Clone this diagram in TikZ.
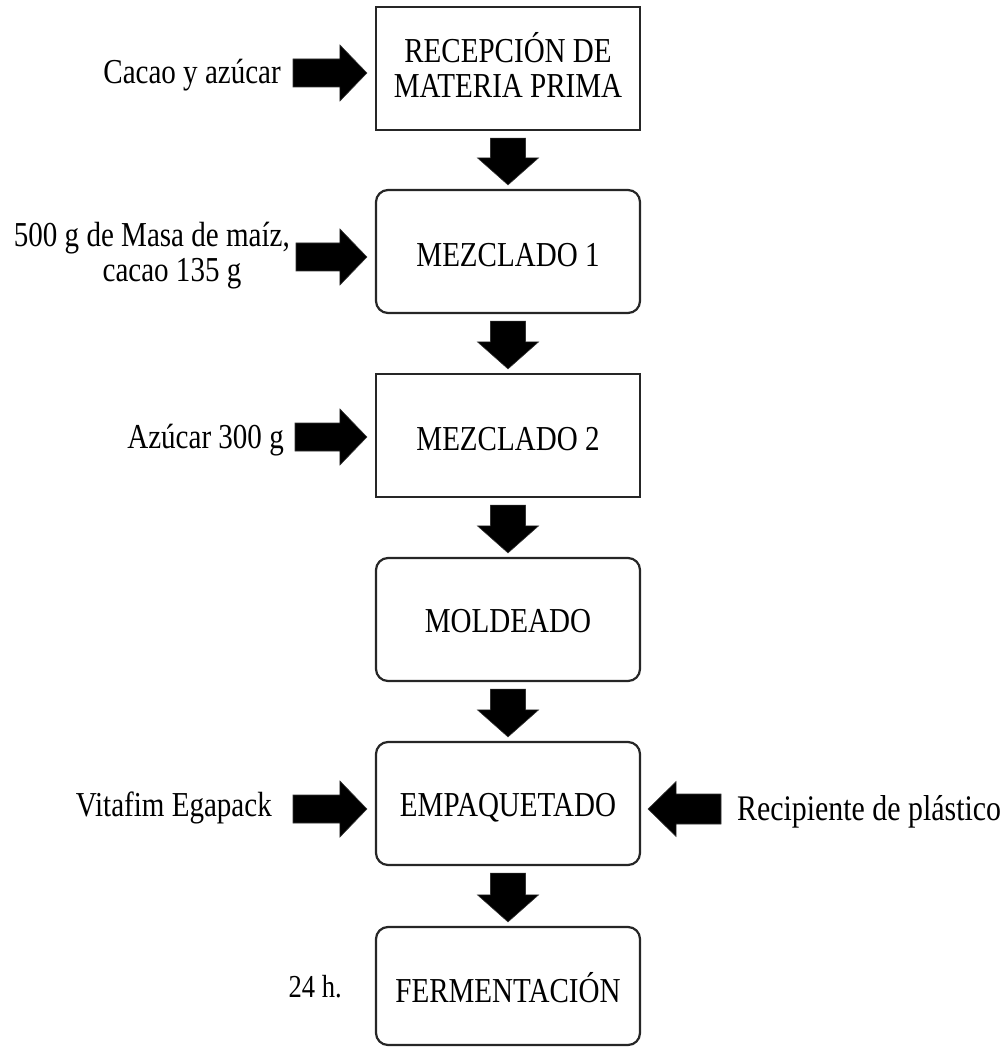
\documentclass[tikz,border=0pt]{standalone}
\usepackage{fontspec}
\setmainfont{Liberation Serif}[FakeStretch=0.83]
\usetikzlibrary{calc}

\tikzset{
  stage/.style={draw=black!85, line width=2.2pt, fill=white, inner sep=0pt,
    minimum width=264pt, minimum height=123pt},
  roundstage/.style={stage, rounded corners=12pt},
  label/.style={inner sep=0pt, align=center, font=\fontsize{35}{35}\selectfont},
  blockarrow/.style={fill=black, draw=black!80, line width=0.6pt, line join=miter}
}

% thick downward arrow from the bottom of one stage to the top of the next
\newcommand\flowdown[2]{%
  \filldraw[blockarrow]
    ($(#1.south)+(-17.5,7)$) -- ($(#1.south)+(17.5,7)$) --
    ($(#2.north)+(17.5,-31)$) -- ($(#2.north)+(30.5,-31)$) --
    ($(#2.north)+(0,-4)$) --
    ($(#2.north)+(-30.5,-31)$) -- ($(#2.north)+(-17.5,-31)$) -- cycle;}

% thick arrow from a tail point to the west side of a stage
\newcommand\flowright[2]{%
  \filldraw[blockarrow]
    ($(#1)+(0,-14)$) -- ($(#1 -| #2.west)+(-35,-14)$) --
    ($(#1 -| #2.west)+(-35,-28)$) -- ($(#1 -| #2.west)+(-8,0)$) --
    ($(#1 -| #2.west)+(-35,28)$) -- ($(#1 -| #2.west)+(-35,14)$) --
    ($(#1)+(0,14)$) -- cycle;}

% thick arrow from a tail point to the east side of a stage
\newcommand\flowleft[2]{%
  \filldraw[blockarrow]
    ($(#1)+(0,-15)$) -- ($(#1 -| #2.east)+(35,-15)$) --
    ($(#1 -| #2.east)+(35,-27.5)$) -- ($(#1 -| #2.east)+(7,0)$) --
    ($(#1 -| #2.east)+(35,27.5)$) -- ($(#1 -| #2.east)+(35,15)$) --
    ($(#1)+(0,15)$) -- cycle;}

\begin{document}
\begin{tikzpicture}[x=1pt, y=-1pt]
  \useasboundingbox (0,0) rectangle (1006,1048);

  % process stages
  \node[stage]      (s1) at (508,68.5)  {};
  \node[roundstage] (s2) at (508,251.5) {};
  \node[stage]      (s3) at (508,435.5) {};
  \node[roundstage] (s4) at (508,619.5) {};
  \node[roundstage] (s5) at (508,803.5) {};
  \node[roundstage, minimum height=118pt] (s6) at (508,986) {};

  % stage titles, set on their baselines
  \node[label] (t1) at (508,64.5) {RECEPCIÓN DE\\MATERIA PRIMA};
  \node[label, anchor=base] (t2) at (s2.center |- 0,267) {MEZCLADO 1};
  \node[label, anchor=base] (t3) at (s3.center |- 0,450) {MEZCLADO 2};
  \node[label, anchor=base] (t4) at (s4.center |- 0,632) {MOLDEADO};
  \node[label, anchor=base] (t5) at (s5.center |- 0,816) {EMPAQUETADO};
  \node[label, anchor=base] (t6) at (s6.center |- 0,1002) {FERMENTACIÓN};

  % flow between stages
  \flowdown{s1}{s2}
  \flowdown{s2}{s3}
  \flowdown{s3}{s4}
  \flowdown{s4}{s5}
  \flowdown{s5}{s6}

  % inputs
  \coordinate (in1) at (293,73);
  \coordinate (in2) at (296,257);
  \coordinate (in3) at (295,437);
  \coordinate (in5) at (293,809);
  \coordinate (in5r) at (721,809);

  \node[label, anchor=base east] (l1) at (281,84) {Cacao y azúcar};
  \node[label, anchor=base east] (l2a) at (290,247) {500 g de Masa de maíz,};
  \node[label, anchor=base] (l2b) at (172,282) {cacao 135 g};
  \node[label, anchor=base east] (l3) at (284,448) {Azúcar 300 g};
  \node[label, anchor=base east] (l5) at (272,816) {Vitafim Egapack};
  \node[label, anchor=base west, font=\fontsize{36}{36}\selectfont] (l5r) at (737,820) {Recipiente de plástico};
  \node[label, anchor=base east, font=\fontsize{32}{32}\selectfont] (l6) at (342,997) {24 h.};

  \flowright{in1}{s1}
  \flowright{in2}{s2}
  \flowright{in3}{s3}
  \flowright{in5}{s5}
  \flowleft{in5r}{s5}
\end{tikzpicture}
\end{document}
